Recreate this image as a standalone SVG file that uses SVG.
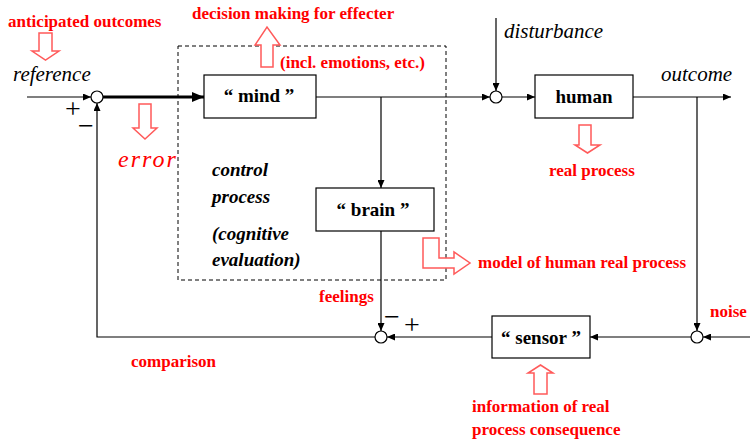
<svg xmlns="http://www.w3.org/2000/svg" width="750" height="440" viewBox="0 0 750 440">
  <style>
    text { font-family: "Liberation Serif", "Times New Roman", "DejaVu Serif", serif; }
    .box { fill: #fff; stroke: #000; stroke-width: 1.2; }
    .sum { fill: #fff; stroke: #000; stroke-width: 1.2; }
    .wire { fill: none; stroke: #000; stroke-width: 1.2; }
    .thick { fill: none; stroke: #000; stroke-width: 3; }
    .frame { fill: none; stroke: #000; stroke-width: 1; stroke-dasharray: 4 3; }
    .hollow { fill: #fff; stroke: #ff5a5a; stroke-width: 1.5; stroke-linejoin: miter; }
    .note { font-weight: bold; font-size: 17px; fill: #ff0000; }
    .sig { font-style: italic; font-size: 21px; fill: #000; }
    .blk { font-weight: bold; font-size: 19px; fill: #000; text-anchor: middle; }
    .ctl { font-weight: bold; font-style: italic; font-size: 19px; fill: #000; }
    .sign { font-size: 28px; fill: #000; text-anchor: middle; }
    .err { font-style: italic; font-size: 24px; letter-spacing: 2px; fill: #ff0000; }
  </style>
  <defs>
    <marker id="arr" markerUnits="userSpaceOnUse" markerWidth="8" markerHeight="7" refX="8" refY="3.5" orient="auto">
      <path d="M0,0 L8,3.5 L0,7 z" fill="#000"/>
    </marker>
    <marker id="arrBig" markerUnits="userSpaceOnUse" markerWidth="12" markerHeight="10" refX="12" refY="5" orient="auto">
      <path d="M0,0 L12,5 L0,10 z" fill="#000"/>
    </marker>
  </defs>

  <!-- control process boundary -->
  <rect class="frame" x="178" y="46" width="268" height="234"/>

  <!-- connectors -->
  <g id="connectors">
    <path class="wire" d="M27,97 H91" marker-end="url(#arr)"/>
    <path class="thick" d="M103,97 H204" marker-end="url(#arrBig)"/>
    <path class="wire" d="M316,97 H490" marker-end="url(#arr)"/>
    <path class="wire" d="M496,18 V91" marker-end="url(#arr)"/>
    <path class="wire" d="M502,97 H535" marker-end="url(#arr)"/>
    <path class="wire" d="M633,97 H731" marker-end="url(#arr)"/>
    <path class="wire" d="M697,97 V331" marker-end="url(#arr)"/>
    <path class="wire" d="M750,337 H703" marker-end="url(#arr)"/>
    <path class="wire" d="M691,337 H590" marker-end="url(#arr)"/>
    <path class="wire" d="M492,337 H387" marker-end="url(#arr)"/>
    <path class="wire" d="M381,97 V188" marker-end="url(#arr)"/>
    <path class="wire" d="M381,231 V331" marker-end="url(#arr)"/>
    <path class="wire" d="M375,337 H97 V103" marker-end="url(#arr)"/>
  </g>

  <!-- summing junctions -->
  <g id="sum-error"><circle class="sum" cx="97" cy="97" r="6"/></g>
  <g id="sum-disturbance"><circle class="sum" cx="496" cy="97" r="6"/></g>
  <g id="sum-noise"><circle class="sum" cx="697" cy="337" r="6"/></g>
  <g id="sum-comparison"><circle class="sum" cx="381" cy="337" r="6"/></g>

  <!-- blocks -->
  <g id="mind">
    <rect class="box" x="204" y="75" width="112" height="43"/>
    <text class="blk" x="259" y="102">“ mind ”</text>
  </g>
  <g id="human">
    <rect class="box" x="535" y="75" width="98" height="43"/>
    <text class="blk" x="584" y="103">human</text>
  </g>
  <g id="brain">
    <rect class="box" x="316" y="188" width="118" height="43"/>
    <text class="blk" x="373" y="216">“ brain ”</text>
  </g>
  <g id="sensor">
    <rect class="box" x="492" y="316" width="98" height="42"/>
    <text class="blk" x="541" y="344">“ sensor ”</text>
  </g>

  <!-- signal names -->
  <text class="sig" x="13" y="81">reference</text>
  <text class="sig" x="504" y="38">disturbance</text>
  <text class="sig" x="661" y="81">outcome</text>

  <!-- signs at junctions -->
  <text class="sign" x="73" y="118">+</text>
  <text class="sign" x="86" y="135">−</text>
  <text class="sign" x="392" y="326">−</text>
  <text class="sign" x="412" y="334">+</text>

  <!-- control process caption -->
  <text class="ctl" x="212" y="176">control</text>
  <text class="ctl" x="212" y="203">process</text>
  <text class="ctl" x="212" y="240">(cognitive</text>
  <text class="ctl" x="212" y="266">evaluation)</text>

  <!-- hollow annotation arrows -->
  <path class="hollow" d="M39,33 H52 V51 H59 L45.5,60 L32,51 H39 Z"/>
  <path class="hollow" d="M139,104 H151 V128 H157 L145,139 L133,128 H139 Z"/>
  <path class="hollow" d="M261,67 H273 V45 H280 L267,27 L255,45 H261 Z"/>
  <path class="hollow" d="M579,125 H591 V145 H600 L587.5,153 L575,145 H579 Z"/>
  <path class="hollow" d="M423,238 H439 V258 H454 V252 L470,263 L454,274 V268 H423 Z"/>
  <path class="hollow" d="M534,394 H547 V373 H553 L540.5,365 L528,373 H534 Z"/>

  <!-- annotations -->
  <text class="note" x="8" y="27">anticipated outcomes</text>
  <text class="note" x="192" y="19">decision making for effecter</text>
  <text class="note" x="280" y="68">(incl. emotions, etc.)</text>
  <text class="note" x="549" y="176">real process</text>
  <text class="note" x="478" y="268">model of human real process</text>
  <text class="note" x="710" y="317">noise</text>
  <text class="note" x="319" y="302">feelings</text>
  <text class="note" x="131" y="367">comparison</text>
  <text class="note" x="472" y="412">information of real</text>
  <text class="note" x="472" y="435">process consequence</text>
  <text class="err" x="118" y="167">error</text>
</svg>
